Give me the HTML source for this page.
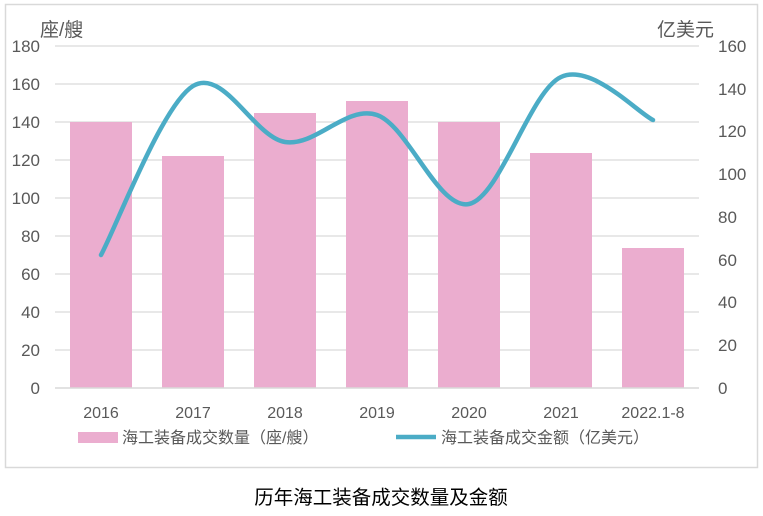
<!DOCTYPE html>
<html><head><meta charset="utf-8"><style>
body{margin:0;background:#fff;}
svg text{font-family:"Liberation Sans","Noto Sans CJK SC",sans-serif;fill:#595959;}
</style></head><body>
<svg width="763" height="511" xmlns="http://www.w3.org/2000/svg">
<rect x="5.5" y="4.5" width="752" height="463" fill="#fff" stroke="#d9d9d9" stroke-width="1.5"/>
<g stroke="#d9d9d9" stroke-width="1.2">
<line x1="55" x2="699" y1="46" y2="46"/><line x1="55" x2="699" y1="84" y2="84"/>
<line x1="55" x2="699" y1="122" y2="122"/><line x1="55" x2="699" y1="160" y2="160"/>
<line x1="55" x2="699" y1="198" y2="198"/><line x1="55" x2="699" y1="236" y2="236"/>
<line x1="55" x2="699" y1="274" y2="274"/><line x1="55" x2="699" y1="312" y2="312"/>
<line x1="55" x2="699" y1="350" y2="350"/>
</g>
<g fill="#ebadcf">
<rect x="70" y="122" width="62" height="266"/>
<rect x="162" y="156" width="62" height="232"/>
<rect x="254" y="113" width="62" height="275"/>
<rect x="346" y="101" width="62" height="287"/>
<rect x="438" y="122" width="62" height="266"/>
<rect x="530" y="153" width="62" height="235"/>
<rect x="622" y="248" width="62" height="140"/>
</g>
<line x1="55" x2="699" y1="388" y2="388" stroke="#d9d9d9" stroke-width="1.5"/>
<path d="M101,255 C116.3,226.8 162.3,104.8 193,86 C223.7,67.2 254.3,137.2 285,142 C315.7,146.8 346.3,104.7 377,115 C407.7,125.3 438.3,210.3 469,204 C499.7,197.7 530.3,91 561,77 C591.7,63 637.7,112.8 653,120" fill="none" stroke="#4bacc6" stroke-width="4.5" stroke-linecap="round"/>
<g font-size="17" text-anchor="end">
<text x="40" y="52">180</text><text x="40" y="90">160</text><text x="40" y="128">140</text>
<text x="40" y="166">120</text><text x="40" y="204">100</text><text x="40" y="242">80</text>
<text x="40" y="280">60</text><text x="40" y="318">40</text><text x="40" y="356">20</text>
<text x="40" y="394">0</text>
</g>
<g font-size="17" text-anchor="start">
<text x="718" y="52">160</text><text x="718" y="95">140</text><text x="718" y="137">120</text>
<text x="718" y="180">100</text><text x="718" y="223">80</text><text x="718" y="266">60</text>
<text x="718" y="308">40</text><text x="718" y="351">20</text><text x="718" y="394">0</text>
</g>
<text x="40" y="36" font-size="19">座/艘</text>
<text x="657" y="36" font-size="19">亿美元</text>
<g font-size="16" text-anchor="middle">
<text x="101" y="418">2016</text><text x="193" y="418">2017</text><text x="285" y="418">2018</text>
<text x="377" y="418">2019</text><text x="469" y="418">2020</text><text x="561" y="418">2021</text>
<text x="653" y="418">2022.1-8</text>
</g>
<rect x="78" y="432" width="40" height="11" fill="#ebadcf"/>
<text x="122" y="443" font-size="16">海工装备成交数量（座/艘）</text>
<line x1="396" x2="436" y1="437" y2="437" stroke="#4bacc6" stroke-width="4.5"/>
<text x="441" y="443" font-size="16">海工装备成交金额（亿美元）</text>
<text x="381" y="504" font-size="19.5" text-anchor="middle" style="fill:#000">历年海工装备成交数量及金额</text>
</svg>
</body></html>
